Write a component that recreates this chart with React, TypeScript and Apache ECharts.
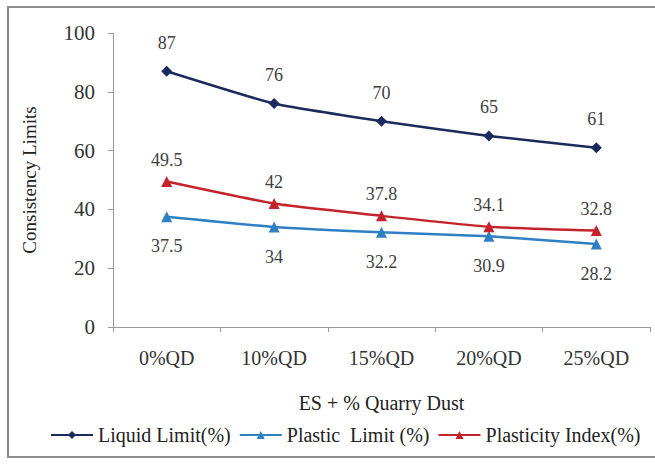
import React, { useEffect, useRef } from "react";
import * as echarts from "echarts";

const categories = ["0%QD", "10%QD", "15%QD", "20%QD", "25%QD"];
const liquidLimit = [87, 76, 70, 65, 61];
const plasticLimit = [37.5, 34, 32.2, 30.9, 28.2];
const plasticityIndex = [49.5, 42, 37.8, 34.1, 32.8];
const yTicks = [0, 20, 40, 60, 80, 100];

const FONT = "'Times New Roman', 'Liberation Serif', Times, serif";

export default function App() {
  const ref = useRef<HTMLDivElement>(null);
  useEffect(() => {
    const chart = echarts.init(ref.current!, undefined, { renderer: "svg" });
    const labelStyle = { show: true, fontFamily: FONT, fontSize: 18, color: "#404040" };
    chart.setOption({
      animation: false,
      backgroundColor: "#fff",
      textStyle: { fontFamily: FONT },
      graphic: [
        {
          type: "rect",
          shape: { x: 8, y: 7, width: 660, height: 450 },
          style: { fill: "none", stroke: "#8c8c8c", lineWidth: 2 },
          z: -1,
        },
      ],
      grid: { left: 113, right: 5, top: 33, bottom: 137 },
      legend: {
        bottom: 14,
        left: 45,
        itemWidth: 42,
        itemHeight: 10,
        itemGap: 8,
        textStyle: { fontFamily: FONT, fontSize: 20, color: "#222" },
        data: ["Liquid Limit(%)", "Plastic  Limit (%)", "Plasticity Index(%)"],
      },
      xAxis: {
        type: "category",
        data: categories,
        boundaryGap: true,
        name: "ES + % Quarry Dust",
        nameLocation: "middle",
        nameGap: 66,
        nameTextStyle: { fontFamily: FONT, fontSize: 20, color: "#222" },
        axisLine: { lineStyle: { color: "#9a9a9a", width: 1 } },
        axisTick: { show: true, length: 5, lineStyle: { color: "#9a9a9a" } },
        axisLabel: { fontFamily: FONT, fontSize: 20, color: "#333", margin: 21 },
      },
      yAxis: {
        type: "value",
        min: 0,
        max: 100,
        interval: 20,
        name: "Consistency Limits",
        nameLocation: "middle",
        nameGap: 74,
        nameTextStyle: { fontFamily: FONT, fontSize: 19, color: "#222" },
        axisLine: { show: true, lineStyle: { color: "#9a9a9a", width: 1 } },
        axisTick: { show: true, length: 5, lineStyle: { color: "#9a9a9a" } },
        axisLabel: {
          fontFamily: FONT,
          fontSize: 21,
          color: "#333",
          margin: 18,
          formatter: (v: number) => (yTicks.includes(v) ? String(v) : ""),
        },
        splitLine: { show: false },
      },
      series: [
        {
          name: "Liquid Limit(%)",
          type: "line",
          data: liquidLimit,
          smooth: 0.15,
          symbol: "diamond",
          symbolSize: 11,
          itemStyle: { color: "#1c2a5e" },
          lineStyle: { color: "#1c2a5e", width: 2.5 },
          label: { ...labelStyle, position: "top", distance: 14 },
        },
        {
          name: "Plastic  Limit (%)",
          type: "line",
          data: plasticLimit,
          smooth: 0.15,
          symbol: "triangle",
          symbolSize: 11,
          itemStyle: { color: "#2e7fc4" },
          lineStyle: { color: "#2e7fc4", width: 2.5 },
          label: { ...labelStyle, position: "bottom", distance: 15 },
        },
        {
          name: "Plasticity Index(%)",
          type: "line",
          data: plasticityIndex,
          smooth: 0.15,
          symbol: "triangle",
          symbolSize: 11,
          itemStyle: { color: "#c4232b" },
          lineStyle: { color: "#c4232b", width: 2.5 },
          label: { ...labelStyle, position: "top", distance: 7 },
        },
      ],
    });
    return () => chart.dispose();
  }, []);
  return <div ref={ref} style={{ width: 655, height: 464, position: "absolute", left: 0, top: 0 }} />;
}
